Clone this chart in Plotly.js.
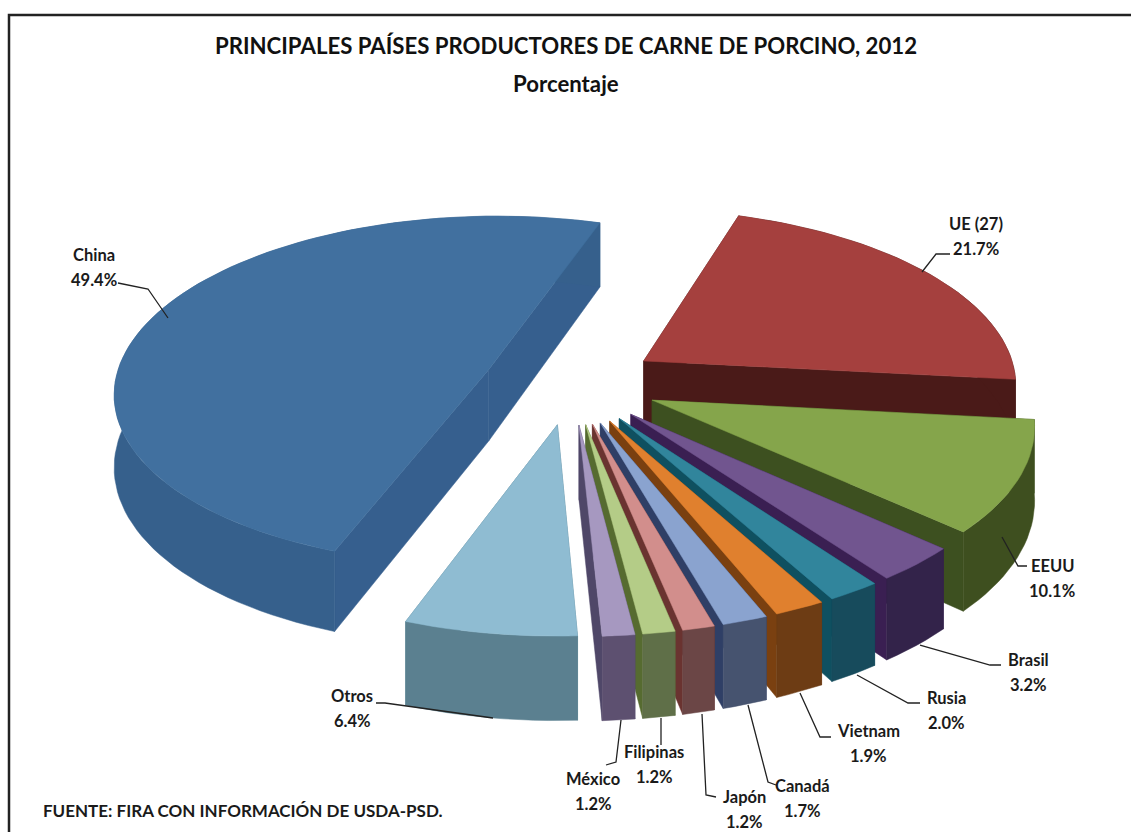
<!DOCTYPE html>
<html><head><meta charset="utf-8">
<script src="https://cdn.plot.ly/plotly-3.0.1.min.js"></script>
<style>html,body{margin:0;padding:0;background:#fff;overflow:hidden}</style>
</head><body><div id="chart" style="width:1131px;height:832px"></div>
<script>
const categories = ["UE (27)","EEUU","Brasil","Rusia","Vietnam","Canadá","Japón","Filipinas","México","Otros","China"];
const shares = [21.7,10.1,3.2,2.0,1.9,1.7,1.2,1.2,1.2,6.4,49.4];
const topColors  = ["#a5403e","#85a54b","#71558f","#31859c","#e0802e","#8aa3cf","#d28e8c","#b4cc87","#a698c0","#8fbcd2","#41709f"];
const sideColors = ["#4a1a18","#3e4f1f","#33234a","#174b5c","#6d3c14","#46536f","#6b4646","#5f6f48","#5d5070","#5b8090","#36608c"];
const faceColors = ["#4a1a18","#3d5020","#3a1f52","#0f5060","#7a4010","#2f3f66","#6a3330","#566b30","#4f4768","#4f7a8c","#365f8e"];
const labelX = [976,1052,1028,946,868,802,744,654,593,352,94];
const labelY = [224,566,660,698,731,786,797,752,779,696,255];
const leaderX = [[950,936,922],[1027,1018,1002],[1001,990,920],[920,908,857],[831,820,800],[776,768,748],[716,706,702],[661,661],[606,616,621],[376,385,493],[118,148,168]];
const leaderY = [[254,254,272],[566,566,537],[665,665,645],[703,703,675],[737,737,693],[785,782,705],[797,795,714],[745,718],[765,762,720],[703,703,718],[283,289,318]];

const view = {cx:571, cy:383, a:374, b:175, persp:0.12, pull:0.235, depth:72, start:72};
function proj(X,Y,z){
  const s = 1/(1+view.persp*Y);
  return [view.cx + view.a*X*s, view.cy - view.b*Y*s + view.depth*z*s];
}
const total = shares.reduce((p,c)=>p+c,0);
let run = view.start;
const wedges = shares.map((v,i)=>{
  const sweep = v/total*360, t0 = run, t1 = run-sweep; run = t1;
  const mid = (t0+t1)/2*Math.PI/180;
  const ox = view.pull*Math.cos(mid), oy = view.pull*Math.sin(mid);
  const n = Math.max(4,Math.ceil(sweep/2)), arc = [];
  for(let k=0;k<=n;k++){const t=(t0+(t1-t0)*k/n)*Math.PI/180; arc.push([ox+Math.cos(t),oy+Math.sin(t)]);}
  return {i,ox,oy,arc,depthKey:Math.sin(mid)};
});
function polygon(pts,z,color){
  const p = pts.map((q,j)=>proj(q[0],q[1],z[j]));
  p.push(p[0]);
  return {type:"scatter",mode:"lines",x:p.map(a=>a[0]),y:p.map(a=>a[1]),fill:"toself",fillcolor:color,
          line:{width:0.5,color:color},hoverinfo:"skip",showlegend:false};
}
const traces = [];
wedges.slice().sort((u,v)=>v.depthKey-u.depthKey).forEach(w=>{
  const o=[w.ox,w.oy], A=w.arc[0], B=w.arc[w.arc.length-1], f=faceColors[w.i];
  traces.push(polygon([o,A,A,o],[0,0,1,1],f));
  traces.push(polygon([o,B,B,o],[0,0,1,1],f));
  traces.push(polygon(w.arc.concat(w.arc.slice().reverse()),w.arc.map(()=>0).concat(w.arc.map(()=>1)),sideColors[w.i]));
  traces.push(polygon([o].concat(w.arc),[0].concat(w.arc.map(()=>0)),topColors[w.i]));
});
const font = {family:"Lato, 'Noto Sans', sans-serif",size:16.5,color:"#1a1a1a"};
const annotations = [];
categories.forEach((c,i)=>{
  annotations.push({x:labelX[i],y:labelY[i],xref:"x",yref:"y",showarrow:false,yanchor:"middle",text:"<b>"+c+"</b>",font:font});
  annotations.push({x:labelX[i],y:labelY[i]+25,xref:"x",yref:"y",showarrow:false,yanchor:"middle",text:"<b>"+shares[i].toFixed(1)+"%</b>",font:font});
});
annotations.push({x:41,y:810,xref:"x",yref:"y",xanchor:"left",showarrow:false,text:"<b>FUENTE: FIRA CON INFORMACIÓN DE USDA-PSD.</b>",font:{family:font.family,size:17,color:"#1a1a1a"}});
annotations.push({x:566,y:83,xref:"x",yref:"y",showarrow:false,yanchor:"middle",text:"<b>Porcentaje</b>",font:{family:font.family,size:22.2,color:"#111"}});
const shapes = leaderX.map((xs,i)=>({type:"path",xref:"x",yref:"y",
   path:xs.map((x,j)=>(j?"L":"M")+x+" "+leaderY[i][j]).join(" "),line:{color:"#222",width:1.3}}));
shapes.push({type:"path",xref:"x",yref:"y",path:"M 9 832 L 9 15 L 1131 15",line:{color:"#222",width:2.5}});
const layout = {width:1131,height:832,margin:{l:0,r:0,t:0,b:0},paper_bgcolor:"#fff",plot_bgcolor:"#fff",showlegend:false,
  title:{text:"<b>PRINCIPALES PAÍSES PRODUCTORES DE CARNE DE PORCINO, 2012</b>",x:566/1131,xanchor:"center",y:1-46/832,yanchor:"middle",font:{family:font.family,size:22.2,color:"#111"}},
  xaxis:{range:[0,1131],visible:false,fixedrange:true},
  yaxis:{range:[832,0],visible:false,fixedrange:true},
  annotations,shapes};
Plotly.newPlot("chart",traces,layout,{displayModeBar:false,staticPlot:true});
</script></body></html>
